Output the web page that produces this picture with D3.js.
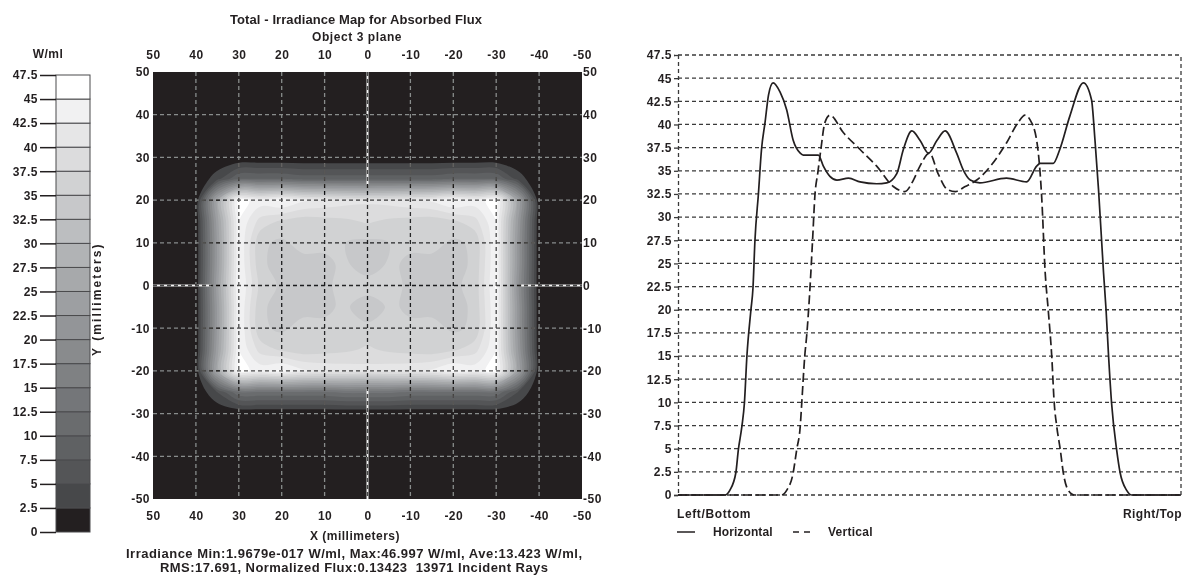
<!DOCTYPE html>
<html>
<head>
<meta charset="utf-8">
<script src="https://cdn.jsdelivr.net/npm/d3@7"></script>
<style>
  body { margin: 0; background: #fff; }
  svg text { font-family: "Liberation Sans", Arial, sans-serif; font-weight: bold; font-size: 12px; letter-spacing: 0.5px; fill: #231f20; }
  svg text.big { font-size: 13px; letter-spacing: 0; }
</style>
</head>
<body>
<svg id="chart" width="1184" height="576"></svg>
<script>
// legend bands, 0 .. 47.5 W/ml
const bandEdges = d3.range(0, 47.5 + 0.001, 2.5)
const bandColors = [
  '#231f20', '#47484a', '#545557', '#5f6163', '#6a6c6e', '#747679', '#7f8183',
  '#898b8d', '#939598', '#9d9fa2', '#a7a9ab', '#b1b3b5', '#bcbec0', '#c7c8ca',
  '#d1d2d3', '#dcdcdd', '#e6e6e7', '#f1f1f2', '#ffffff'
]

// irradiance map, 5 mm grid; columns x = 50 .. -50, rows y = 50 .. -50
const mapX = d3.range(50, -50.001, -5)
const mapY = d3.range(50, -50.001, -5)
const mapTicks = [50, 40, 30, 20, 10, 0, -10, -20, -30, -40, -50]
const zeroRow = new Array(21).fill(0)
const mapRows = [
  zeroRow, zeroRow, zeroRow, zeroRow, zeroRow,
  [0, 0, 0, 4, 10, 10, 10, 9, 9, 9, 9, 9, 9, 9, 10, 10, 10, 4, 0, 0, 0],
  [0, 0, 0, 26, 46, 44, 45.5, 43, 42, 41, 40.5, 41, 42, 43, 45.5, 44, 46, 25, 0, 0, 0],
  [0, 0, 0, 24, 45, 39, 37, 36, 36.5, 37, 37.8, 37, 36.5, 36, 37, 39, 45, 23, 0, 0, 0],
  [0, 0, 0, 23, 45, 35.5, 34.5, 36, 35.5, 35, 34.4, 35, 35.5, 36, 34.5, 35.5, 45, 22, 0, 0, 0],
  [0, 0, 0, 23, 45, 35.5, 34, 34, 34.5, 35.5, 32.8, 35.5, 34.5, 34, 34, 35.5, 45, 22, 0, 0, 0],
  [0, 0, 0, 24, 45.5, 36.7, 34.5, 34, 33.6, 37.5, 36.9, 37.3, 33.7, 34.2, 34.5, 35.8, 45.5, 21, 0, 0, 0],
  [0, 0, 0, 23, 45, 35.5, 34, 34, 34.5, 35.5, 32.8, 35.5, 34.5, 34, 34, 35.5, 45, 22, 0, 0, 0],
  [0, 0, 0, 23, 45, 35.5, 34.5, 36, 35.5, 35.5, 35.8, 35.5, 35.5, 36, 34.5, 35.5, 45, 22, 0, 0, 0],
  [0, 0, 0, 24, 45, 39, 37, 36, 36.5, 37, 37.9, 37, 36.5, 36, 37, 39, 45, 23, 0, 0, 0],
  [0, 0, 0, 26, 46, 44, 45.5, 43, 42, 41.5, 41, 41.5, 42, 43, 45.5, 44, 46, 25, 0, 0, 0],
  [0, 0, 0, 5, 12, 12, 12, 12, 12, 13, 13, 13, 12, 12, 12, 12, 12, 5, 0, 0, 0],
  zeroRow, zeroRow, zeroRow, zeroRow, zeroRow
]

// cross sections through the centre (position -50 = left/bottom)
const hPos = [-50, -40.7, -39.7, -38.5, -38.0, -37.3, -36.8, -36.3, -35.5, -35.1, -34.7, -34.0, -33.4, -32.7, -32.0,
  -31.1, -29.7, -28.4, -27.1, -25.7, -25.1, -22.1, -21.1, -19.8, -18.4, -16.1, -13.8, -10.5, -8.5, -6.5, -5.2, -3.5,
  -1.9, -0.2, 1.5, 3.1, 5.4, 6.7, 8.1, 10.0, 15.3, 19.3, 21.3, 22.0, 24.6, 25.9, 27.9, 30.6, 32.2, 32.9, 33.6, 34.6,
  35.1, 35.6, 36.2, 37.2, 37.9, 39.2, 40.2, 50]
const hVal = [0, 0, 0.5, 2.4, 4.9, 7.4, 9.9, 15, 20, 22.3, 27.5, 32.6, 37.3, 40.2, 43.2,
  44.5, 43.5, 41.6, 38.3, 36.9, 36.7, 36.7, 35.5, 34.4, 34.0, 34.2, 33.8, 33.6, 33.7, 34.7, 37.3, 39.3,
  38.3, 36.9, 38.3, 39.3, 36.9, 35.1, 34.0, 33.7, 34.2, 33.8, 35.5, 35.8, 35.8, 37.3, 40.9, 44.5, 42.7, 38.3, 33, 24,
  20, 15, 9.9, 4.9, 2.4, 0.5, 0, 0]
const vPos = [-50, -29.4, -28.4, -27.1, -26.4, -25.7, -25.4, -24.8, -24.4, -23.8, -23.2, -22.8, -22.2, -21.6, -20.8,
  -19.8, -17.1, -13.8, -10.5, -7.2, -4.9, -3.2, -1.9, 0, 1.7, 3.5, 5.1, 7.1, 9.4, 15.3, 17.6, 19.0, 20.0, 21.3,
  22.0, 22.3, 23.0, 23.6, 24.3, 24.8, 25.3, 26.0, 26.6, 27.6, 28.9, 50]
const vVal = [0, 0, 0.5, 2.4, 4.9, 7.4, 9.9, 15, 17.3, 22, 28, 32.2, 34.8, 37.3, 40.2,
  41.0, 39.1, 37.3, 35.5, 33.3, 32.75, 34.0, 35.5, 36.9, 34.7, 33.0, 32.75, 33.3, 34.0, 38.0, 40.2, 41.0, 40.5, 38.3,
  34.7, 32.2, 24, 20, 15, 9.9, 7.4, 4.9, 2.4, 0.5, 0, 0]

const svg = d3.select('#chart')
const color = d3.scaleThreshold().domain(bandEdges.slice(1, -1)).range(bandColors)

// ---------- colour legend ----------
const legY = d3.scaleLinear().domain([0, 47.5]).range([532, 75])
const leg = svg.append('g')
leg.selectAll('rect')
  .data(bandEdges.slice(0, -1))
  .enter()
  .append('rect')
  .attr('x', 56)
  .attr('width', 34)
  .attr('y', (d) => legY(d + 2.5))
  .attr('height', (d) => legY(d) - legY(d + 2.5))
  .attr('fill', (d) => color(d))
  .attr('stroke', '#4a4a4c')
  .attr('stroke-width', 1)
const legAxis = leg.append('g')
  .attr('transform', 'translate(56,0)')
  .call(d3.axisLeft(legY).tickValues(bandEdges).tickSize(16).tickPadding(2).tickFormat((d) => d))
legAxis.select('.domain').remove()
legAxis.selectAll('line').attr('stroke', '#231f20').attr('stroke-width', 1.5)
svg.append('text').attr('x', 48).attr('y', 58).attr('text-anchor', 'middle').text('W/ml')

// ---------- irradiance map ----------
const xMap = d3.scaleLinear().domain([50, -50]).range([153, 582])
const yMap = d3.scaleLinear().domain([50, -50]).range([72, 499])
const nx = mapX.length, ny = mapY.length
const gx = d3.scaleLinear().domain([0.5, nx - 0.5]).range([mapX[0], mapX[nx - 1]])
const gy = d3.scaleLinear().domain([0.5, ny - 0.5]).range([mapY[0], mapY[ny - 1]])
const ringLine = d3.line()
  .x((p) => xMap(gx(p[0])))
  .y((p) => yMap(gy(p[1])))
  .curve(d3.curveCatmullRomClosed.alpha(0.5))
const polyPath = (c) => c.coordinates.map((poly) => poly.map((ring) => ringLine(ring.slice(0, -1))).join('')).join('')

const contours = d3.contours().size([nx, ny]).thresholds(bandEdges.slice(1, -1))(mapRows.flat())

const mapG = svg.append('g')
mapG.append('rect')
  .attr('x', xMap(50)).attr('y', yMap(50))
  .attr('width', xMap(-50) - xMap(50)).attr('height', yMap(-50) - yMap(50))
  .attr('fill', bandColors[0])
mapG.selectAll('path.band')
  .data(contours)
  .enter()
  .append('path')
  .attr('class', 'band')
  .attr('d', polyPath)
  .attr('fill', (d) => color(d.value))
  .attr('fill-rule', 'evenodd')

// white centre lines, shown only where the map is dark
const mask = svg.append('defs').append('mask').attr('id', 'darkOnly')
mask.append('rect').attr('x', 0).attr('y', 0).attr('width', 1184).attr('height', 576).attr('fill', '#fff')
mask.append('path')
  .attr('d', polyPath(contours.find((c) => c.value === 17.5)))
  .attr('fill', '#000')
  .attr('fill-rule', 'evenodd')
const cross = svg.append('g').attr('mask', 'url(#darkOnly)')
cross.append('line')
  .attr('x1', xMap(0)).attr('x2', xMap(0)).attr('y1', yMap(50)).attr('y2', yMap(-50))
  .attr('stroke', '#f4f4f4').attr('stroke-width', 2)
cross.append('line')
  .attr('y1', yMap(0)).attr('y2', yMap(0)).attr('x1', xMap(50)).attr('x2', xMap(-50))
  .attr('stroke', '#f4f4f4').attr('stroke-width', 2)

// dashed grid
const gridVals = mapTicks.slice(1, -1)
const mapGrid = svg.append('g').style('mix-blend-mode', 'difference')
mapGrid.selectAll('line.gx')
  .data(gridVals)
  .enter()
  .append('line')
  .attr('x1', (d) => xMap(d)).attr('x2', (d) => xMap(d))
  .attr('y1', yMap(50)).attr('y2', yMap(-50))
mapGrid.selectAll('line.gy')
  .data(gridVals)
  .enter()
  .append('line')
  .attr('y1', (d) => yMap(d)).attr('y2', (d) => yMap(d))
  .attr('x1', xMap(50)).attr('x2', xMap(-50))
mapGrid.selectAll('line')
  .attr('stroke', '#acacac')
  .attr('stroke-width', 1.3)
  .attr('stroke-dasharray', '4,3')

const mapAxes = [
  [d3.axisTop(xMap).tickPadding(13), `translate(0,${yMap(50)})`],
  [d3.axisBottom(xMap).tickPadding(12), `translate(0,${yMap(-50)})`],
  [d3.axisLeft(yMap).tickPadding(3), `translate(${xMap(50)},0)`],
  [d3.axisRight(yMap).tickPadding(1), `translate(${xMap(-50)},0)`]
]
mapAxes.forEach(([ax, tr]) => {
  const g = svg.append('g')
    .attr('transform', tr)
    .call(ax.tickValues(mapTicks).tickSize(0).tickFormat((d) => d))
  g.select('.domain').remove()
})
svg.selectAll('.tick text').attr('font-family', null).attr('font-size', null)

svg.append('text').attr('class', 'big').attr('x', 356).attr('y', 24).attr('text-anchor', 'middle')
  .attr('textLength', 252).attr('lengthAdjust', 'spacing')
  .text('Total - Irradiance Map for Absorbed Flux')
svg.append('text').attr('x', 357).attr('y', 41).attr('text-anchor', 'middle')
  .attr('textLength', 90).attr('lengthAdjust', 'spacing')
  .text('Object 3 plane')
svg.append('text').attr('x', 355).attr('y', 540).attr('text-anchor', 'middle')
  .attr('textLength', 90).attr('lengthAdjust', 'spacing')
  .text('X (millimeters)')
svg.append('text')
  .attr('transform', 'translate(101,300) rotate(-90)')
  .attr('text-anchor', 'middle')
  .attr('textLength', 112).attr('lengthAdjust', 'spacing')
  .text('Y (millimeters)')
svg.append('text').attr('class', 'big').attr('x', 354).attr('y', 558).attr('text-anchor', 'middle')
  .attr('textLength', 456).attr('lengthAdjust', 'spacing')
  .text('Irradiance Min:1.9679e-017 W/ml, Max:46.997 W/ml, Ave:13.423 W/ml,')
svg.append('text').attr('class', 'big').attr('x', 354).attr('y', 572).attr('text-anchor', 'middle')
  .attr('xml:space', 'preserve')
  .attr('textLength', 388).attr('lengthAdjust', 'spacing')
  .text('RMS:17.691, Normalized Flux:0.13423  13971 Incident Rays')

// ---------- cross section chart ----------
const xProf = d3.scaleLinear().domain([-50, 50]).range([678, 1181])
const yProf = d3.scaleLinear().domain([0, 47.5]).range([495, 55])
const prof = svg.append('g')
prof.selectAll('line.grid')
  .data(bandEdges)
  .enter()
  .append('line')
  .attr('class', 'grid')
  .attr('x1', xProf(-50)).attr('x2', xProf(50))
  .attr('y1', (d) => yProf(d)).attr('y2', (d) => yProf(d))
prof.append('line').attr('class', 'grid')
  .attr('x1', xProf(50)).attr('x2', xProf(50)).attr('y1', yProf(0)).attr('y2', yProf(47.5))
prof.selectAll('line.grid')
  .attr('stroke', '#3a3a3a')
  .attr('stroke-width', 1.3)
  .attr('stroke-dasharray', '4,3')
const profAxis = prof.append('g')
  .attr('transform', `translate(${xProf(-50)},0)`)
  .call(d3.axisLeft(yProf).tickValues(bandEdges).tickSize(4).tickPadding(2).tickFormat((d) => d))
profAxis.select('.domain').attr('stroke', '#3a3a3a').attr('stroke-width', 1.3).attr('stroke-dasharray', '4,3')
profAxis.selectAll('.tick line').attr('stroke', '#3a3a3a').attr('stroke-width', 1.3)
profAxis.selectAll('text').attr('font-family', null).attr('font-size', null)

const profLine = d3.line().x((d) => xProf(d[0])).y((d) => yProf(d[1])).curve(d3.curveMonotoneX)
prof.append('path')
  .attr('d', profLine(hPos.map((p, i) => [p, hVal[i]])))
  .attr('fill', 'none').attr('stroke', '#231f20').attr('stroke-width', 1.7)
prof.append('path')
  .attr('d', profLine(vPos.map((p, i) => [p, vVal[i]])))
  .attr('fill', 'none').attr('stroke', '#231f20').attr('stroke-width', 1.7).attr('stroke-dasharray', '9,4')

svg.append('text').attr('x', 677).attr('y', 518)
  .attr('textLength', 74).attr('lengthAdjust', 'spacing').text('Left/Bottom')
svg.append('text').attr('x', 1123).attr('y', 518)
  .attr('textLength', 59).attr('lengthAdjust', 'spacing').text('Right/Top')
svg.append('line').attr('x1', 677).attr('x2', 695).attr('y1', 532).attr('y2', 532)
  .attr('stroke', '#231f20').attr('stroke-width', 1.5)
svg.append('text').attr('x', 713).attr('y', 536)
  .attr('textLength', 60).attr('lengthAdjust', 'spacing').text('Horizontal')
svg.append('line').attr('x1', 793).attr('x2', 813).attr('y1', 532).attr('y2', 532)
  .attr('stroke', '#231f20').attr('stroke-width', 1.5).attr('stroke-dasharray', '6,5')
svg.append('text').attr('x', 828).attr('y', 536)
  .attr('textLength', 45).attr('lengthAdjust', 'spacing').text('Vertical')
</script>
</body>
</html>
